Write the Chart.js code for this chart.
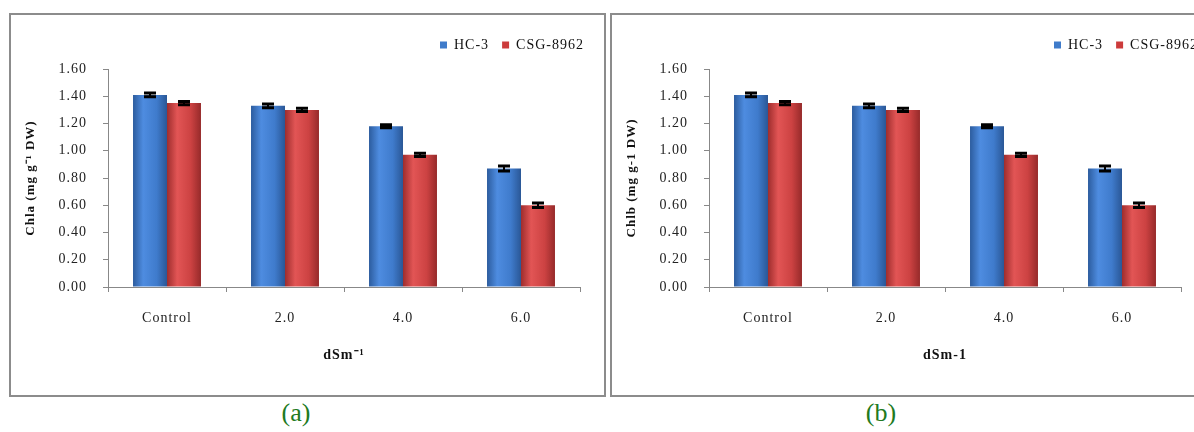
<!DOCTYPE html>
<html>
<head>
<meta charset="utf-8">
<script src="https://cdn.jsdelivr.net/npm/chart.js@4.4.1/dist/chart.umd.min.js"></script>
<style>
html,body{margin:0;padding:0;background:#fff;width:1194px;height:432px;overflow:hidden;position:relative}
.panel{position:absolute;top:13px;width:597px;height:384px;border:2px solid #8c8c8c;box-sizing:border-box;background:#fff}
.panel canvas{display:block}
.cap{position:absolute;top:398px;width:100px;text-align:center;font-family:"Liberation Serif",serif;font-size:26px;line-height:30px;color:#217a21}
</style>
</head>
<body>
<div class="panel" style="left:9px"><canvas id="ca" width="593" height="380"></canvas></div>
<div class="panel" style="left:610px"><canvas id="cb" width="606" height="380"></canvas></div>
<div class="cap" style="left:246px">(a)</div>
<div class="cap" style="left:831px">(b)</div>
<script>
const categories = ['Control', '2.0', '4.0', '6.0'];
const seriesNames = ['HC-3', 'CSG-8962'];
const hc3 = [1.41, 1.33, 1.18, 0.87];
const csg = [1.35, 1.30, 0.97, 0.60];
const hc3Err = [0.010, 0.010, 0.008, 0.015];
const csgErr = [0.008, 0.008, 0.008, 0.012];
const yTickValues = [0, 0.2, 0.4, 0.6, 0.8, 1.0, 1.2, 1.4, 1.6];
const yTitleA = 'Chla (mg g\u207B\u00B9 DW)';
const xTitleA = 'dSm\u207B\u00B9';
const yTitleB = 'Chlb (mg g-1 DW)';
const xTitleB = 'dSm-1';

const CAT_PCT = 0.576;
const blueStops = [[0,'#2c5c9e'],[0.3,'#4e8ce0'],[0.7,'#3f7bcc'],[1,'#2a5796']];
const redStops = [[0,'#9e2d2d'],[0.3,'#e25555'],[0.7,'#cc4242'],[1,'#962a2a']];
const legendColors = ['#3f7bca', '#cc3b3b'];
const SPACING = '1px';
const FONT = '"Liberation Serif", "Times New Roman", serif';

function barFill(stops, fallback) {
  return function(ctx) {
    const chart = ctx.chart;
    if (!chart.chartArea || ctx.type !== 'data') return fallback;
    const xs = chart.scales.x;
    const center = xs.getPixelForValue(ctx.dataIndex);
    const catW = xs.width / categories.length;
    const bw = catW * CAT_PCT / 2;
    const x0 = ctx.datasetIndex === 0 ? center - bw : center;
    const g = chart.ctx.createLinearGradient(x0, 0, x0 + bw, 0);
    stops.forEach(s => g.addColorStop(s[0], s[1]));
    return g;
  };
}

const spacingPlugin = {
  id: 'spacing',
  beforeUpdate(c) { c.ctx.letterSpacing = SPACING; },
  beforeLayout(c) { c.ctx.letterSpacing = SPACING; },
  beforeDraw(c) { c.ctx.letterSpacing = SPACING; }
};

const errPlugin = {
  id: 'errbars',
  afterDatasetsDraw(chart) {
    const ctx = chart.ctx;
    const ys = chart.scales.y;
    const errs = [hc3Err, csgErr];
    chart.data.datasets.forEach((ds, di) => {
      const meta = chart.getDatasetMeta(di);
      meta.data.forEach((el, i) => {
        const v = ds.data[i], e = errs[di][i];
        const yt = ys.getPixelForValue(v + e), yb = ys.getPixelForValue(v - e);
        ctx.save();
        ctx.strokeStyle = '#000';
        ctx.lineWidth = 2;
        ctx.beginPath();
        ctx.moveTo(el.x, yt); ctx.lineTo(el.x, yb);
        ctx.stroke();
        ctx.lineWidth = 3;
        ctx.beginPath();
        ctx.moveTo(el.x - 6, yt - 0.5); ctx.lineTo(el.x + 6, yt - 0.5);
        ctx.moveTo(el.x - 6, yb + 0.5); ctx.lineTo(el.x + 6, yb + 0.5);
        ctx.stroke();
        ctx.restore();
      });
    });
  }
};

function makeChart(id, yTitle, xTitle, rightSpace) {
  return new Chart(document.getElementById(id), {
    type: 'bar',
    data: {
      labels: categories,
      datasets: [
        { label: seriesNames[0], data: hc3, backgroundColor: barFill(blueStops, legendColors[0]), borderWidth: 0,
          barPercentage: 1, categoryPercentage: CAT_PCT, xAxisID: 'x', yAxisID: 'y' },
        { label: seriesNames[1], data: csg, backgroundColor: barFill(redStops, legendColors[1]), borderWidth: 0,
          barPercentage: 1, categoryPercentage: CAT_PCT, xAxisID: 'x', yAxisID: 'y' }
      ]
    },
    options: {
      responsive: false,
      animation: false,
      layout: { padding: { top: 10, right: 7, left: 0, bottom: 0 } },
      plugins: {
        tooltip: { enabled: false },
        legend: {
          position: 'top', align: 'end',
          labels: {
            boxWidth: 7, boxHeight: 7, padding: 13, color: '#111',
            font: { family: FONT, size: 14 },
            generateLabels(chart) {
              return chart.data.datasets.map((ds, i) => ({
                text: ds.label, fillStyle: legendColors[i], strokeStyle: legendColors[i],
                lineWidth: 0, hidden: false, datasetIndex: i, fontColor: '#111'
              }));
            }
          }
        }
      },
      scales: {
        x: {
          position: 'bottom',
          grid: { drawOnChartArea: false, drawTicks: true, tickLength: 5, color: '#888', offset: true },
          border: { color: '#888', width: 1 },
          ticks: { color: '#222', padding: 18, font: { family: FONT, size: 14 } },
          title: { display: true, text: xTitle, color: '#111', padding: { top: 0, bottom: 31 },
                   font: { family: FONT, size: 14, weight: 'bold' } },
          afterFit(s) { s.height = 108; }
        },
        y: {
          position: 'left',
          min: 0, max: 1.6,
          afterBuildTicks(s) { s.ticks = yTickValues.map(v => ({ value: v })); },
          grid: { drawOnChartArea: false, drawTicks: true, tickLength: 5, color: '#888' },
          border: { color: '#888', width: 1 },
          ticks: { color: '#222', padding: 16, font: { family: FONT, size: 14 },
                   callback: v => Number(v).toFixed(2) },
          title: { display: true, text: yTitle, color: '#111', padding: { top: 12, bottom: 0 },
                   font: { family: FONT, size: 13, weight: 'bold' } },
          afterFit(s) { s.width = 97; }
        },
        xTopSpacer: {
          type: 'linear', axis: 'x', position: 'top', display: true,
          grid: { display: false, drawTicks: false }, border: { display: false }, ticks: { display: false },
          afterFit(s) { s.height = 7; }
        },
        yRightSpacer: {
          type: 'linear', axis: 'y', position: 'right', display: true,
          grid: { display: false, drawTicks: false }, border: { display: false }, ticks: { display: false },
          afterFit(s) { s.width = rightSpace; }
        }
      }
    },
    plugins: [spacingPlugin, errPlugin]
  });
}

makeChart('ca', yTitleA, xTitleA, 17);
makeChart('cb', yTitleB, xTitleB, 30);
</script>
</body>
</html>
